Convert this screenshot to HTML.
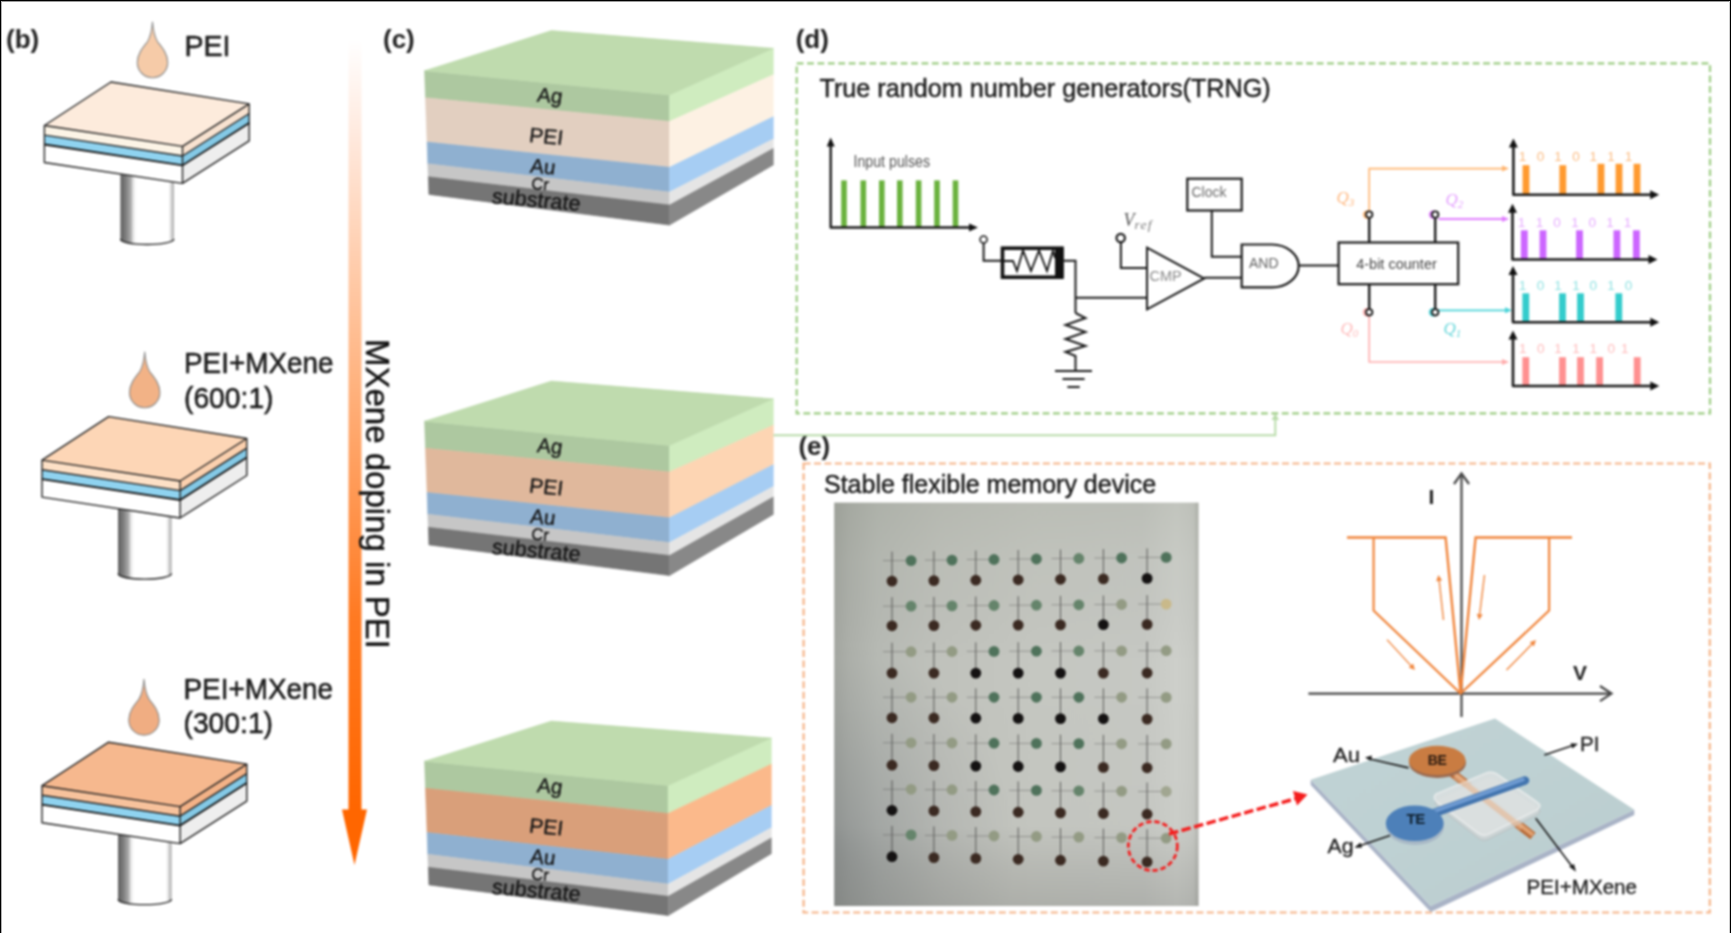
<!DOCTYPE html><html><head><meta charset="utf-8"><style>
html,body{margin:0;padding:0;background:#fff;}
body{width:1731px;height:933px;overflow:hidden;font-family:"Liberation Sans", sans-serif;}
svg{display:block;filter:blur(1px);}
.bd{position:absolute;background:#000;}
body{position:relative;}
</style></head><body>
<svg width="1731" height="933" viewBox="0 0 1731 933" font-family='"Liberation Sans", sans-serif'>
<defs>
<linearGradient id="cyl" x1="0" x2="1" y1="0" y2="0"><stop offset="0" stop-color="#5e5e5e"/><stop offset="0.1" stop-color="#7e7e7e"/><stop offset="0.19" stop-color="#a8a8a8"/><stop offset="0.25" stop-color="#eeeeee"/><stop offset="0.3" stop-color="#fff"/><stop offset="0.9" stop-color="#fff"/><stop offset="0.95" stop-color="#d4d4d4"/><stop offset="1" stop-color="#a8a8a8"/></linearGradient>
<linearGradient id="arrowg" x1="0" x2="0" y1="0" y2="1"><stop offset="0" stop-color="#fff"/><stop offset="0.12" stop-color="#ffeadf"/><stop offset="0.45" stop-color="#ffb27e"/><stop offset="0.75" stop-color="#ff7a22"/><stop offset="1" stop-color="#ff6600"/></linearGradient>
<linearGradient id="photo" x1="0" x2="1" y1="0" y2="0"><stop offset="0" stop-color="#a4a7a1"/><stop offset="0.04" stop-color="#adb0aa"/><stop offset="0.12" stop-color="#b7bab4"/><stop offset="0.3" stop-color="#c0c2bc"/><stop offset="0.55" stop-color="#c5c7c1"/><stop offset="0.85" stop-color="#c6c8c3"/><stop offset="0.94" stop-color="#cdcfca"/><stop offset="0.985" stop-color="#c8cac5"/><stop offset="1" stop-color="#b4b6b0"/></linearGradient>
<radialGradient id="photoR" cx="0" cy="0.85" r="0.5"><stop offset="0" stop-color="#3a4050" stop-opacity="0.2"/><stop offset="0.6" stop-color="#3a4050" stop-opacity="0.07"/><stop offset="1" stop-color="#3a4050" stop-opacity="0"/></radialGradient>
<marker id="ah" viewBox="0 0 10 10" refX="9" refY="5" markerWidth="8" markerHeight="8" orient="auto" markerUnits="userSpaceOnUse"><path d="M0,0 L10,5 L0,10 Z" fill="#111"/></marker>
<linearGradient id="photoV" x1="0" x2="0" y1="0" y2="1"><stop offset="0" stop-color="#505a40" stop-opacity="0.09"/><stop offset="0.15" stop-color="#505a40" stop-opacity="0.04"/><stop offset="0.4" stop-color="#000" stop-opacity="0"/><stop offset="0.8" stop-color="#000" stop-opacity="0.01"/><stop offset="0.9" stop-color="#000" stop-opacity="0.07"/><stop offset="1" stop-color="#000" stop-opacity="0.12"/></linearGradient>
<linearGradient id="piG" x1="0" x2="1" y1="0" y2="1"><stop offset="0" stop-color="#fff" stop-opacity="0.0"/><stop offset="1" stop-color="#000" stop-opacity="0.03"/></linearGradient>
</defs>
<rect x="0" y="0" width="1731" height="933" fill="#fff"/>
<text x="6" y="47.8" font-size="26" font-weight="bold" fill="#222">(b)</text>
<path d="M120.4,150 L120.4,240 A26.799999999999997,5.5 0 0 0 174.0,240 L174.0,150 Z" fill="url(#cyl)"/>
<path d="M120.4,239 A26.799999999999997,5.5 0 0 0 174.0,239" fill="none" stroke="#222" stroke-width="1.3"/>
<polygon points="44.4,125.5 182.5,146.4 182.5,156.0 44.4,135.1" fill="#fcf4e6"/>
<polygon points="44.4,135.1 182.5,156.0 182.5,165.4 44.4,144.5" fill="#8fd3f0"/>
<polygon points="44.4,144.5 182.5,165.4 182.5,183.4 44.4,162.5" fill="#ffffff"/>
<polygon points="182.5,146.4 249.2,103.9 249.2,113.5 182.5,156.0" fill="#f8e2d0"/>
<polygon points="182.5,156.0 249.2,113.5 249.2,122.9 182.5,165.4" fill="#84c9e6"/>
<polygon points="182.5,165.4 249.2,122.9 249.2,140.9 182.5,183.4" fill="#eeeeee"/>
<polygon points="44.4,125.5 111.0,82.0 249.2,103.9 182.5,146.4" fill="#fdebdc" stroke="#222" stroke-width="1.4" stroke-linejoin="round"/>
<path d="M44.4,125.5 L44.4,162.5 L182.5,183.4 L249.2,140.9 L249.2,103.9 M182.5,146.4 L182.5,183.4 M44.4,135.1 L182.5,156.0 L249.2,113.5" fill="none" stroke="#222" stroke-width="1.4" stroke-linejoin="round"/>
<path d="M44.4,144.5 L182.5,165.4 L249.2,122.9" fill="none" stroke="#111" stroke-width="1.8"/>
<path d="M152.5,22.0 C153.4,33.0 154.7,37.0 157.7,42.0 C162.2,47.5 167.7,54.0 167.7,62.5 A15.2,15.2 0 0 1 137.3,62.5 C137.3,54.0 142.8,47.5 147.3,42.0 C150.3,37.0 151.6,33.0 152.5,22.0 Z" fill="#f6cba8" stroke="#8c8c8c" stroke-width="1.1" stroke-linejoin="round"/>
<text x="184.5" y="55.5" font-size="30" fill="#1c1c1c" stroke="#1c1c1c" stroke-width="0.6" textLength="46.0" lengthAdjust="spacingAndGlyphs">PEI</text>
<path d="M118.0,484.6 L118.0,574.6 A26.799999999999997,5.5 0 0 0 171.6,574.6 L171.6,484.6 Z" fill="url(#cyl)"/>
<path d="M118.0,573.6 A26.799999999999997,5.5 0 0 0 171.6,573.6" fill="none" stroke="#222" stroke-width="1.3"/>
<polygon points="42.0,460.1 180.1,481.0 180.1,490.6 42.0,469.7" fill="#fde0c6"/>
<polygon points="42.0,469.7 180.1,490.6 180.1,500.0 42.0,479.1" fill="#8fd3f0"/>
<polygon points="42.0,479.1 180.1,500.0 180.1,518.0 42.0,497.1" fill="#ffffff"/>
<polygon points="180.1,481.0 246.8,438.5 246.8,448.1 180.1,490.6" fill="#fbd0ae"/>
<polygon points="180.1,490.6 246.8,448.1 246.8,457.5 180.1,500.0" fill="#84c9e6"/>
<polygon points="180.1,500.0 246.8,457.5 246.8,475.5 180.1,518.0" fill="#eeeeee"/>
<polygon points="42.0,460.1 108.6,416.6 246.8,438.5 180.1,481.0" fill="#fdd6b6" stroke="#222" stroke-width="1.4" stroke-linejoin="round"/>
<path d="M42.0,460.1 L42.0,497.1 L180.1,518.0 L246.8,475.5 L246.8,438.5 M180.1,481.0 L180.1,518.0 M42.0,469.7 L180.1,490.6 L246.8,448.1" fill="none" stroke="#222" stroke-width="1.4" stroke-linejoin="round"/>
<path d="M42.0,479.1 L180.1,500.0 L246.8,457.5" fill="none" stroke="#111" stroke-width="1.8"/>
<path d="M144.7,352.0 C145.6,363.0 146.9,367.0 149.9,372.0 C154.4,377.5 159.9,384.0 159.9,392.5 A15.2,15.2 0 0 1 129.5,392.5 C129.5,384.0 135.0,377.5 139.5,372.0 C142.5,367.0 143.8,363.0 144.7,352.0 Z" fill="#f2b286" stroke="#8c8c8c" stroke-width="1.1" stroke-linejoin="round"/>
<text x="184" y="372.8" font-size="30" fill="#1c1c1c" stroke="#1c1c1c" stroke-width="0.6" textLength="149.5" lengthAdjust="spacingAndGlyphs">PEI+MXene</text>
<text x="184" y="407.6" font-size="30" fill="#1c1c1c" stroke="#1c1c1c" stroke-width="0.6" textLength="89.5" lengthAdjust="spacingAndGlyphs">(600:1)</text>
<path d="M118.0,810.2 L118.0,900.2 A26.799999999999997,5.5 0 0 0 171.6,900.2 L171.6,810.2 Z" fill="url(#cyl)"/>
<path d="M118.0,899.2 A26.799999999999997,5.5 0 0 0 171.6,899.2" fill="none" stroke="#222" stroke-width="1.3"/>
<polygon points="42.0,785.7 180.1,806.6 180.1,816.2 42.0,795.3" fill="#f7c29c"/>
<polygon points="42.0,795.3 180.1,816.2 180.1,825.6 42.0,804.7" fill="#8fd3f0"/>
<polygon points="42.0,804.7 180.1,825.6 180.1,843.6 42.0,822.7" fill="#ffffff"/>
<polygon points="180.1,806.6 246.8,764.1 246.8,773.7 180.1,816.2" fill="#f3b287"/>
<polygon points="180.1,816.2 246.8,773.7 246.8,783.1 180.1,825.6" fill="#84c9e6"/>
<polygon points="180.1,825.6 246.8,783.1 246.8,801.1 180.1,843.6" fill="#eeeeee"/>
<polygon points="42.0,785.7 108.6,742.2 246.8,764.1 180.1,806.6" fill="#f6b88e" stroke="#222" stroke-width="1.4" stroke-linejoin="round"/>
<path d="M42.0,785.7 L42.0,822.7 L180.1,843.6 L246.8,801.1 L246.8,764.1 M180.1,806.6 L180.1,843.6 M42.0,795.3 L180.1,816.2 L246.8,773.7" fill="none" stroke="#222" stroke-width="1.4" stroke-linejoin="round"/>
<path d="M42.0,804.7 L180.1,825.6 L246.8,783.1" fill="none" stroke="#111" stroke-width="1.8"/>
<path d="M144.0,679.4 C144.9,690.4 146.2,694.4 149.2,699.4 C153.7,704.9 159.2,711.4 159.2,719.9 A15.2,15.2 0 0 1 128.8,719.9 C128.8,711.4 134.3,704.9 138.8,699.4 C141.8,694.4 143.1,690.4 144.0,679.4 Z" fill="#f0ad82" stroke="#8c8c8c" stroke-width="1.1" stroke-linejoin="round"/>
<text x="183.5" y="698.5" font-size="30" fill="#1c1c1c" stroke="#1c1c1c" stroke-width="0.6" textLength="149.5" lengthAdjust="spacingAndGlyphs">PEI+MXene</text>
<text x="183.5" y="733.3" font-size="30" fill="#1c1c1c" stroke="#1c1c1c" stroke-width="0.6" textLength="89.5" lengthAdjust="spacingAndGlyphs">(300:1)</text>
<rect x="348.5" y="39" width="13" height="772" fill="url(#arrowg)"/>
<polygon points="342,809.5 367,809.5 354.5,865" fill="#ff6600"/>
<text x="0" y="0" font-size="33" fill="#111" stroke="#111" stroke-width="0.4" transform="translate(365.5 339) rotate(90)">MXene doping in PEI</text>
<text x="383" y="48.3" font-size="26" font-weight="bold" fill="#222">(c)</text>
<polygon points="424.6,70.7 669.5,95.0 669.5,121.4 425.5,97.8" fill="#adc8a0" stroke="#adc8a0" stroke-width="0.6"/>
<polygon points="669.5,95.0 773.3,48.3 773.3,74.7 669.5,121.4" fill="#cfecbf" stroke="#cfecbf" stroke-width="0.6"/>
<polygon points="425.5,97.8 669.5,121.4 669.5,167.3 427.1,142.1" fill="#e2cfc0" stroke="#e2cfc0" stroke-width="0.6"/>
<polygon points="669.5,121.4 773.3,74.7 773.3,116.7 669.5,167.3" fill="#fdf1e3" stroke="#fdf1e3" stroke-width="0.6"/>
<polygon points="427.1,142.1 669.5,167.3 669.5,192.1 427.8,163.8" fill="#8fb0d0" stroke="#8fb0d0" stroke-width="0.6"/>
<polygon points="669.5,167.3 773.3,116.7 773.3,139.0 669.5,192.1" fill="#a6cdf3" stroke="#a6cdf3" stroke-width="0.6"/>
<polygon points="427.8,163.8 669.5,192.1 669.5,205.0 428.3,176.8" fill="#c6c6c6" stroke="#c6c6c6" stroke-width="0.6"/>
<polygon points="669.5,192.1 773.3,139.0 773.3,148.5 669.5,205.0" fill="#e5e5e5" stroke="#e5e5e5" stroke-width="0.6"/>
<polygon points="428.3,176.8 669.5,205.0 669.5,225.1 428.9,194.4" fill="#757575" stroke="#757575" stroke-width="0.6"/>
<polygon points="669.5,205.0 773.3,148.5 773.3,165.0 669.5,225.1" fill="#888888" stroke="#888888" stroke-width="0.6"/>
<polygon points="424.6,70.7 551.4,30.6 773.3,48.3 669.5,95.0" fill="#bfdbae" stroke="#bfdbae" stroke-width="0.6"/>
<text x="0" y="0" font-size="20.5" fill="#151515" stroke="#151515" stroke-width="0.35" text-anchor="middle" transform="translate(549 102.5) skewY(5) skewX(-7)">Ag</text>
<text x="0" y="0" font-size="21" fill="#151515" stroke="#151515" stroke-width="0.35" text-anchor="middle" transform="translate(545.5 143.5) skewY(5) skewX(-7)">PEI</text>
<text x="0" y="0" font-size="20.5" fill="#151515" stroke="#151515" stroke-width="0.35" text-anchor="middle" transform="translate(542 173.5) skewY(5) skewX(-7)">Au</text>
<text x="0" y="0" font-size="16.5" fill="#111" stroke="#151515" stroke-width="0.35" text-anchor="middle" transform="translate(539.5 189.5) skewY(5) skewX(-7)">Cr</text>
<text x="0" y="0" font-size="21.5" fill="#151515" stroke="#151515" stroke-width="0.35" text-anchor="middle" transform="translate(535.5 207.0) skewY(5) skewX(-7)">substrate</text>
<polygon points="424.6,421.2 669.5,445.5 669.5,471.9 425.5,448.3" fill="#adc8a0" stroke="#adc8a0" stroke-width="0.6"/>
<polygon points="669.5,445.5 773.3,398.8 773.3,425.2 669.5,471.9" fill="#cfecbf" stroke="#cfecbf" stroke-width="0.6"/>
<polygon points="425.5,448.3 669.5,471.9 669.5,517.8 427.1,492.6" fill="#e0b89c" stroke="#e0b89c" stroke-width="0.6"/>
<polygon points="669.5,471.9 773.3,425.2 773.3,464.7 669.5,517.8" fill="#fdd5b3" stroke="#fdd5b3" stroke-width="0.6"/>
<polygon points="427.1,492.6 669.5,517.8 669.5,542.6 427.8,514.3" fill="#8fb0d0" stroke="#8fb0d0" stroke-width="0.6"/>
<polygon points="669.5,517.8 773.3,464.7 773.3,486.5 669.5,542.6" fill="#a6cdf3" stroke="#a6cdf3" stroke-width="0.6"/>
<polygon points="427.8,514.3 669.5,542.6 669.5,555.5 428.3,527.3" fill="#c6c6c6" stroke="#c6c6c6" stroke-width="0.6"/>
<polygon points="669.5,542.6 773.3,486.5 773.3,497.0 669.5,555.5" fill="#e5e5e5" stroke="#e5e5e5" stroke-width="0.6"/>
<polygon points="428.3,527.3 669.5,555.5 669.5,575.6 428.9,544.9" fill="#757575" stroke="#757575" stroke-width="0.6"/>
<polygon points="669.5,555.5 773.3,497.0 773.3,514.5 669.5,575.6" fill="#888888" stroke="#888888" stroke-width="0.6"/>
<polygon points="424.6,421.2 551.4,381.1 773.3,398.8 669.5,445.5" fill="#bfdbae" stroke="#bfdbae" stroke-width="0.6"/>
<text x="0" y="0" font-size="20.5" fill="#151515" stroke="#151515" stroke-width="0.35" text-anchor="middle" transform="translate(549 453.0) skewY(5) skewX(-7)">Ag</text>
<text x="0" y="0" font-size="21" fill="#151515" stroke="#151515" stroke-width="0.35" text-anchor="middle" transform="translate(545.5 494.0) skewY(5) skewX(-7)">PEI</text>
<text x="0" y="0" font-size="20.5" fill="#151515" stroke="#151515" stroke-width="0.35" text-anchor="middle" transform="translate(542 524.0) skewY(5) skewX(-7)">Au</text>
<text x="0" y="0" font-size="16.5" fill="#111" stroke="#151515" stroke-width="0.35" text-anchor="middle" transform="translate(539.5 540.0) skewY(5) skewX(-7)">Cr</text>
<text x="0" y="0" font-size="21.5" fill="#151515" stroke="#151515" stroke-width="0.35" text-anchor="middle" transform="translate(535.5 557.5) skewY(5) skewX(-7)">substrate</text>
<polygon points="424.6,761.2 668.2,785.5 668.2,813.4 425.5,788.3" fill="#adc8a0" stroke="#adc8a0" stroke-width="0.6"/>
<polygon points="668.2,785.5 771.3,738.0 771.3,764.2 668.2,813.4" fill="#cfecbf" stroke="#cfecbf" stroke-width="0.6"/>
<polygon points="425.5,788.3 668.2,813.4 668.2,859.3 427.1,832.6" fill="#d99f7a" stroke="#d99f7a" stroke-width="0.6"/>
<polygon points="668.2,813.4 771.3,764.2 771.3,805.5 668.2,859.3" fill="#fbb98b" stroke="#fbb98b" stroke-width="0.6"/>
<polygon points="427.1,832.6 668.2,859.3 668.2,884.1 427.8,854.3" fill="#8fb0d0" stroke="#8fb0d0" stroke-width="0.6"/>
<polygon points="668.2,859.3 771.3,805.5 771.3,827.8 668.2,884.1" fill="#a6cdf3" stroke="#a6cdf3" stroke-width="0.6"/>
<polygon points="427.8,854.3 668.2,884.1 668.2,896.3 428.3,867.3" fill="#c6c6c6" stroke="#c6c6c6" stroke-width="0.6"/>
<polygon points="668.2,884.1 771.3,827.8 771.3,838.0 668.2,896.3" fill="#e5e5e5" stroke="#e5e5e5" stroke-width="0.6"/>
<polygon points="428.3,867.3 668.2,896.3 668.2,915.6 428.9,884.9" fill="#757575" stroke="#757575" stroke-width="0.6"/>
<polygon points="668.2,896.3 771.3,838.0 771.3,853.7 668.2,915.6" fill="#888888" stroke="#888888" stroke-width="0.6"/>
<polygon points="424.6,761.2 551.4,721.1 771.3,738.0 668.2,785.5" fill="#bfdbae" stroke="#bfdbae" stroke-width="0.6"/>
<text x="0" y="0" font-size="20.5" fill="#151515" stroke="#151515" stroke-width="0.35" text-anchor="middle" transform="translate(549 793.0) skewY(5) skewX(-7)">Ag</text>
<text x="0" y="0" font-size="21" fill="#151515" stroke="#151515" stroke-width="0.35" text-anchor="middle" transform="translate(545.5 834.0) skewY(5) skewX(-7)">PEI</text>
<text x="0" y="0" font-size="20.5" fill="#151515" stroke="#151515" stroke-width="0.35" text-anchor="middle" transform="translate(542 864.0) skewY(5) skewX(-7)">Au</text>
<text x="0" y="0" font-size="16.5" fill="#111" stroke="#151515" stroke-width="0.35" text-anchor="middle" transform="translate(539.5 880.0) skewY(5) skewX(-7)">Cr</text>
<text x="0" y="0" font-size="21.5" fill="#151515" stroke="#151515" stroke-width="0.35" text-anchor="middle" transform="translate(535.5 897.5) skewY(5) skewX(-7)">substrate</text>
<text x="795.7" y="47.8" font-size="26" font-weight="bold" fill="#222">(d)</text>
<rect x="796.7" y="63.3" width="913.3" height="350.1" fill="none" stroke="#9ccc82" stroke-width="2.2" stroke-dasharray="6.8 3.6"/>
<text x="819.5" y="96.7" font-size="25.2" fill="#1c1c1c" stroke="#1c1c1c" stroke-width="0.45">True random number generators(TRNG)</text>
<rect x="841.2" y="180.4" width="5.6" height="47" fill="#6ab23e"/>
<rect x="860.5" y="180.4" width="5.6" height="47" fill="#6ab23e"/>
<rect x="879.0" y="180.4" width="5.6" height="47" fill="#6ab23e"/>
<rect x="897.0" y="180.4" width="5.6" height="47" fill="#6ab23e"/>
<rect x="915.8" y="180.4" width="5.6" height="47" fill="#6ab23e"/>
<rect x="934.2" y="180.4" width="5.6" height="47" fill="#6ab23e"/>
<rect x="952.7" y="180.4" width="5.6" height="47" fill="#6ab23e"/>
<path d="M830.7,145 L830.7,227.5 L970,227.5" fill="none" stroke="#1a1a1a" stroke-width="2.4" stroke-linejoin="round"/>
<polygon points="830.7,137.5 826.7,146.5 834.7,146.5" fill="#111"/>
<polygon points="978,227.5 969,223.5 969,231.5" fill="#111"/>
<text x="853.5" y="167.3" font-size="16.5" fill="#555" textLength="76.5" lengthAdjust="spacingAndGlyphs">Input pulses</text>
<path d="M983.6,243 L983.6,260.7 L1001,260.7" fill="none" stroke="#1a1a1a" stroke-width="2"/>
<path d="M1063.7,260.7 L1075.5,260.7 L1075.5,313" fill="none" stroke="#1a1a1a" stroke-width="2"/>
<path d="M1075.5,297.7 L1147,297.7" fill="none" stroke="#1a1a1a" stroke-width="2"/>
<path d="M1075.5,313 L1085.5,318 L1065.5,325 L1085.5,332 L1065.5,339 L1085.5,346 L1065.5,352 L1075.5,356 L1075.5,371" fill="none" stroke="#1a1a1a" stroke-width="2" stroke-linejoin="miter"/>
<path d="M1055,371 L1092,371 M1062.5,379 L1084.6,379 M1067.4,387 L1079.7,387" stroke="#1a1a1a" stroke-width="2"/>
<circle cx="983.6" cy="239.5" r="3.5" fill="#fff" stroke="#1a1a1a" stroke-width="1.6"/>
<rect x="1002.5" y="248.2" width="59.5" height="29" fill="#fff" stroke="#111" stroke-width="3.6"/>
<rect x="1055" y="248" width="8.5" height="29.5" fill="#111"/>
<path d="M1004,261 L1013,261 L1017,271 L1023,250.5 L1031,271 L1039,250.5 L1047,271 L1053,250.5 L1055,258" fill="none" stroke="#111" stroke-width="1.8" stroke-linejoin="miter"/>
<path d="M1120.9,241 L1120.9,268 L1147,268" fill="none" stroke="#1a1a1a" stroke-width="2"/>
<circle cx="1120.7" cy="238" r="4.2" fill="#fff" stroke="#1a1a1a" stroke-width="2.2"/>
<text x="1123.5" y="226" font-family='"Liberation Serif", serif' font-style="italic" font-size="18" fill="#555">V<tspan font-size="13.5" dy="3" letter-spacing="1.2" fill="#777">ref</tspan></text>
<polygon points="1147,247.7 1147,309.3 1204.2,278.5" fill="#fff" stroke="#1a1a1a" stroke-width="2" stroke-linejoin="miter"/>
<text x="1149.5" y="281" font-size="14.5" fill="#8a8a8a">CMP</text>
<path d="M1204.2,277.7 L1242,277.7" fill="none" stroke="#1a1a1a" stroke-width="2"/>
<rect x="1187.3" y="178.7" width="54.4" height="31.8" fill="#fff" stroke="#1a1a1a" stroke-width="2.2"/>
<text x="1191.5" y="197.3" font-size="15.5" fill="#6a6a6a" textLength="35" lengthAdjust="spacingAndGlyphs">Clock</text>
<path d="M1211.8,210.5 L1211.8,256.7 L1242,256.7" fill="none" stroke="#1a1a1a" stroke-width="2"/>
<path d="M1241.7,244.5 L1272,244.5 A26.7,21.4 0 0 1 1272,287.3 L1241.7,287.3 Z" fill="#fff" stroke="#1a1a1a" stroke-width="2.2"/>
<text x="1249" y="267.5" font-size="14" fill="#606060">AND</text>
<path d="M1298.7,265.5 L1339,265.5" fill="none" stroke="#1a1a1a" stroke-width="2"/>
<path d="M1369.2,218 L1369.2,243 M1435.2,218 L1435.2,243 M1369.2,284 L1369.2,309 M1435.2,284 L1435.2,309" stroke="#1a1a1a" stroke-width="2.4"/>
<rect x="1338.6" y="242.5" width="119.6" height="41.7" fill="#fff" stroke="#1a1a1a" stroke-width="2.2"/>
<text x="1396.5" y="268.5" font-size="14.5" fill="#444" text-anchor="middle">4-bit counter</text>
<path d="M1369.2,211 L1369.2,168.6 L1503,168.6" fill="none" stroke="#ffb46e" stroke-width="1.6"/>
<polygon points="1509,168.6 1502,165.6 1502,171.6" fill="#ffb46e"/>
<path d="M1438.5,219 L1503,219" fill="none" stroke="#e07cff" stroke-width="1.8"/>
<polygon points="1509,219 1502,216.0 1502,222.0" fill="#e07cff"/>
<path d="M1438.5,310.3 L1506,310.3" fill="none" stroke="#48d3d8" stroke-width="1.8"/>
<polygon points="1512,310.3 1505,307.3 1505,313.3" fill="#48d3d8"/>
<path d="M1369.2,316 L1369.2,362 L1503,362" fill="none" stroke="#ffabab" stroke-width="1.6"/>
<polygon points="1509,362 1502,359.0 1502,365.0" fill="#ffabab"/>
<circle cx="1367.0" cy="214.6" r="3.3" fill="none" stroke="#ffb46e" stroke-width="1.8"/>
<circle cx="1369.2" cy="214.6" r="3.2" fill="#fff" stroke="#111" stroke-width="1.8"/>
<circle cx="1433.0" cy="214.6" r="3.3" fill="none" stroke="#e07cff" stroke-width="1.8"/>
<circle cx="1435.2" cy="214.6" r="3.2" fill="#fff" stroke="#111" stroke-width="1.8"/>
<circle cx="1367.0" cy="312.3" r="3.3" fill="none" stroke="#ffabab" stroke-width="1.8"/>
<circle cx="1369.2" cy="312.3" r="3.2" fill="#fff" stroke="#111" stroke-width="1.8"/>
<circle cx="1433.0" cy="312.3" r="3.3" fill="none" stroke="#48d3d8" stroke-width="1.8"/>
<circle cx="1435.2" cy="312.3" r="3.2" fill="#fff" stroke="#111" stroke-width="1.8"/>
<text x="1336.5" y="203" font-family='"Liberation Serif", serif' font-style="italic" font-size="17" fill="#ffb880">Q<tspan font-size="11" dy="3">3</tspan></text>
<text x="1445.5" y="205" font-family='"Liberation Serif", serif' font-style="italic" font-size="17" fill="#e4a0ff">Q<tspan font-size="11" dy="3">2</tspan></text>
<text x="1340.5" y="334" font-family='"Liberation Serif", serif' font-style="italic" font-size="17" fill="#ffbaba">Q<tspan font-size="11" dy="3">0</tspan></text>
<text x="1443.5" y="334" font-family='"Liberation Serif", serif' font-style="italic" font-size="17" fill="#66d6da">Q<tspan font-size="11" dy="3">1</tspan></text>
<rect x="1522.6" y="165.2" width="6.8" height="29.6" fill="#ff9a30"/>
<rect x="1559.4" y="165.2" width="6.8" height="29.6" fill="#ff9a30"/>
<rect x="1597.6" y="163.8" width="6.8" height="31.0" fill="#ff9a30"/>
<rect x="1615.6" y="163.8" width="6.8" height="31.0" fill="#ff9a30"/>
<rect x="1633.6" y="163.8" width="6.8" height="31.0" fill="#ff9a30"/>
<path d="M1513.4,145.6 L1513.4,194.8 L1652.2,194.8" fill="none" stroke="#1a1a1a" stroke-width="2.6" stroke-linejoin="round"/>
<polygon points="1513.4,138.6 1508.9,147.6 1517.9,147.6" fill="#111"/>
<polygon points="1659.2,194.8 1650.2,190.3 1650.2,199.3" fill="#111"/>
<text x="1522.5" y="161.4" font-size="13.5" fill="#fbbb80" text-anchor="middle">1</text>
<text x="1540.5" y="161.4" font-size="13.5" fill="#fbbb80" text-anchor="middle">0</text>
<text x="1558" y="161.4" font-size="13.5" fill="#fbbb80" text-anchor="middle">1</text>
<text x="1576" y="161.4" font-size="13.5" fill="#fbbb80" text-anchor="middle">0</text>
<text x="1593.3" y="161.4" font-size="13.5" fill="#fbbb80" text-anchor="middle">1</text>
<text x="1611" y="161.4" font-size="13.5" fill="#fbbb80" text-anchor="middle">1</text>
<text x="1628.5" y="161.4" font-size="13.5" fill="#fbbb80" text-anchor="middle">1</text>
<rect x="1520.9" y="230.3" width="6.8" height="29.2" fill="#cc66ff"/>
<rect x="1539.6" y="230.3" width="6.8" height="29.2" fill="#cc66ff"/>
<rect x="1576.1" y="230.3" width="6.8" height="29.2" fill="#cc66ff"/>
<rect x="1613.5" y="230.3" width="6.8" height="29.2" fill="#cc66ff"/>
<rect x="1633.0" y="230.3" width="6.8" height="29.2" fill="#cc66ff"/>
<path d="M1512.5,210.8 L1512.5,259.5 L1650.5,259.5" fill="none" stroke="#1a1a1a" stroke-width="2.6" stroke-linejoin="round"/>
<polygon points="1512.5,203.8 1508.0,212.8 1517.0,212.8" fill="#111"/>
<polygon points="1657.5,259.5 1648.5,255.0 1648.5,264.0" fill="#111"/>
<text x="1521.5" y="227.4" font-size="13.5" fill="#e6aaff" text-anchor="middle">1</text>
<text x="1539.5" y="227.4" font-size="13.5" fill="#e6aaff" text-anchor="middle">1</text>
<text x="1557" y="227.4" font-size="13.5" fill="#e6aaff" text-anchor="middle">0</text>
<text x="1575" y="227.4" font-size="13.5" fill="#e6aaff" text-anchor="middle">1</text>
<text x="1592.3" y="227.4" font-size="13.5" fill="#e6aaff" text-anchor="middle">0</text>
<text x="1610" y="227.4" font-size="13.5" fill="#e6aaff" text-anchor="middle">1</text>
<text x="1627.5" y="227.4" font-size="13.5" fill="#e6aaff" text-anchor="middle">1</text>
<rect x="1522.4" y="293.3" width="6.8" height="29.0" fill="#33cccc"/>
<rect x="1559.1" y="293.3" width="6.8" height="29.0" fill="#33cccc"/>
<rect x="1577.1" y="293.3" width="6.8" height="29.0" fill="#33cccc"/>
<rect x="1615.4" y="293.3" width="6.8" height="29.0" fill="#33cccc"/>
<path d="M1513,273 L1513,322.3 L1652.3,322.3" fill="none" stroke="#1a1a1a" stroke-width="2.6" stroke-linejoin="round"/>
<polygon points="1513,266 1508.5,275 1517.5,275" fill="#111"/>
<polygon points="1659.3,322.3 1650.3,317.8 1650.3,326.8" fill="#111"/>
<text x="1522.5" y="289.6" font-size="13.5" fill="#90e2e2" text-anchor="middle">1</text>
<text x="1540.5" y="289.6" font-size="13.5" fill="#90e2e2" text-anchor="middle">0</text>
<text x="1558" y="289.6" font-size="13.5" fill="#90e2e2" text-anchor="middle">1</text>
<text x="1576" y="289.6" font-size="13.5" fill="#90e2e2" text-anchor="middle">1</text>
<text x="1593.3" y="289.6" font-size="13.5" fill="#90e2e2" text-anchor="middle">0</text>
<text x="1611" y="289.6" font-size="13.5" fill="#90e2e2" text-anchor="middle">1</text>
<text x="1628.5" y="289.6" font-size="13.5" fill="#90e2e2" text-anchor="middle">0</text>
<rect x="1522.4" y="357.2" width="6.8" height="28.8" fill="#ff9090"/>
<rect x="1559.1" y="357.2" width="6.8" height="28.8" fill="#ff9090"/>
<rect x="1577.1" y="357.2" width="6.8" height="28.8" fill="#ff9090"/>
<rect x="1596.2" y="357.2" width="6.8" height="28.8" fill="#ff9090"/>
<rect x="1633.8" y="357.2" width="6.8" height="28.8" fill="#ff9090"/>
<path d="M1513,337.5 L1513,386 L1652.3,386" fill="none" stroke="#1a1a1a" stroke-width="2.6" stroke-linejoin="round"/>
<polygon points="1513,330.5 1508.5,339.5 1517.5,339.5" fill="#111"/>
<polygon points="1659.3,386 1650.3,381.5 1650.3,390.5" fill="#111"/>
<text x="1522.8" y="352.6" font-size="13.5" fill="#ffbcbc" text-anchor="middle">1</text>
<text x="1540.8" y="352.6" font-size="13.5" fill="#ffbcbc" text-anchor="middle">0</text>
<text x="1558" y="352.6" font-size="13.5" fill="#ffbcbc" text-anchor="middle">1</text>
<text x="1576" y="352.6" font-size="13.5" fill="#ffbcbc" text-anchor="middle">1</text>
<text x="1593.3" y="352.6" font-size="13.5" fill="#ffbcbc" text-anchor="middle">1</text>
<text x="1611.3" y="352.6" font-size="13.5" fill="#ffbcbc" text-anchor="middle">0</text>
<text x="1624.8" y="352.6" font-size="13.5" fill="#ffbcbc" text-anchor="middle">1</text>
<text x="798.4" y="454.5" font-size="26" font-weight="bold" fill="#222">(e)</text>
<path d="M773.3,435.2 L1275.3,435.2 L1275.3,418" fill="none" stroke="#b9dcaa" stroke-width="2"/>
<polygon points="1275.3,413.5 1271.5,420 1279,420" fill="#b9dcaa"/>
<rect x="803.6" y="463.5" width="906.2" height="449" fill="none" stroke="#f6b488" stroke-width="2.2" stroke-dasharray="7 3.4"/>
<text x="824" y="493" font-size="25" fill="#1c1c1c" stroke="#1c1c1c" stroke-width="0.45">Stable flexible memory device</text>
<rect x="834.2" y="502.6" width="364.4" height="403.4" fill="url(#photo)"/>
<rect x="834.2" y="502.6" width="364.4" height="403.4" fill="url(#photoR)"/>
<rect x="834.2" y="502.6" width="364.4" height="403.4" fill="url(#photoV)"/>
<path d="M892.0,551.6 L892.0,581.1" stroke="#3a3a38" stroke-width="1" fill="none" opacity="0.75"/>
<path d="M883.0,560.6 L911.1,560.6" stroke="#5a5a58" stroke-width="1" fill="none" opacity="0.45"/>
<circle cx="911.1" cy="560.6" r="5.4" fill="#4f725b"/>
<circle cx="892.0" cy="581.1" r="5.4" fill="#3b2a22"/>
<path d="M933.9,551.1 L933.9,580.6" stroke="#3a3a38" stroke-width="1" fill="none" opacity="0.75"/>
<path d="M924.9,560.1 L952.0,560.1" stroke="#5a5a58" stroke-width="1" fill="none" opacity="0.45"/>
<circle cx="952.0" cy="560.1" r="5.4" fill="#4f725b"/>
<circle cx="933.9" cy="580.6" r="5.4" fill="#3b2a22"/>
<path d="M975.8,550.5 L975.8,580.2" stroke="#3a3a38" stroke-width="1" fill="none" opacity="0.75"/>
<path d="M966.8,559.5 L994.0,559.5" stroke="#5a5a58" stroke-width="1" fill="none" opacity="0.45"/>
<circle cx="994.0" cy="559.5" r="5.4" fill="#4f725b"/>
<circle cx="975.8" cy="580.2" r="5.4" fill="#3b2a22"/>
<path d="M1018.2,550.0 L1018.2,579.8" stroke="#3a3a38" stroke-width="1" fill="none" opacity="0.75"/>
<path d="M1009.2,559.0 L1036.4,559.0" stroke="#5a5a58" stroke-width="1" fill="none" opacity="0.45"/>
<circle cx="1036.4" cy="559.0" r="5.4" fill="#4f725b"/>
<circle cx="1018.2" cy="579.8" r="5.4" fill="#3b2a22"/>
<path d="M1060.5,549.5 L1060.5,579.3" stroke="#3a3a38" stroke-width="1" fill="none" opacity="0.75"/>
<path d="M1051.5,558.5 L1078.8,558.5" stroke="#5a5a58" stroke-width="1" fill="none" opacity="0.45"/>
<circle cx="1078.8" cy="558.5" r="5.4" fill="#65846b"/>
<circle cx="1060.5" cy="579.3" r="5.4" fill="#3b2a22"/>
<path d="M1103.4,549.0 L1103.4,578.9" stroke="#3a3a38" stroke-width="1" fill="none" opacity="0.75"/>
<path d="M1094.4,558.0 L1121.6,558.0" stroke="#5a5a58" stroke-width="1" fill="none" opacity="0.45"/>
<circle cx="1121.6" cy="558.0" r="5.4" fill="#4f725b"/>
<circle cx="1103.4" cy="578.9" r="5.4" fill="#3b2a22"/>
<path d="M1147.1,548.4 L1147.1,578.4" stroke="#3a3a38" stroke-width="1" fill="none" opacity="0.75"/>
<path d="M1138.1,557.4 L1166.2,557.4" stroke="#5a5a58" stroke-width="1" fill="none" opacity="0.45"/>
<circle cx="1166.2" cy="557.4" r="5.4" fill="#4f725b"/>
<circle cx="1147.1" cy="578.4" r="5.4" fill="#141212"/>
<path d="M892.0,597.2 L892.0,625.8" stroke="#3a3a38" stroke-width="1" fill="none" opacity="0.75"/>
<path d="M883.0,606.2 L911.1,606.2" stroke="#5a5a58" stroke-width="1" fill="none" opacity="0.45"/>
<circle cx="911.1" cy="606.2" r="5.4" fill="#65846b"/>
<circle cx="892.0" cy="625.8" r="5.4" fill="#3b2a22"/>
<path d="M933.9,596.9 L933.9,625.6" stroke="#3a3a38" stroke-width="1" fill="none" opacity="0.75"/>
<path d="M924.9,605.9 L952.0,605.9" stroke="#5a5a58" stroke-width="1" fill="none" opacity="0.45"/>
<circle cx="952.0" cy="605.9" r="5.4" fill="#65846b"/>
<circle cx="933.9" cy="625.6" r="5.4" fill="#3b2a22"/>
<path d="M975.8,596.5 L975.8,625.3" stroke="#3a3a38" stroke-width="1" fill="none" opacity="0.75"/>
<path d="M966.8,605.5 L994.0,605.5" stroke="#5a5a58" stroke-width="1" fill="none" opacity="0.45"/>
<circle cx="994.0" cy="605.5" r="5.4" fill="#65846b"/>
<circle cx="975.8" cy="625.3" r="5.4" fill="#3b2a22"/>
<path d="M1018.2,596.2 L1018.2,625.1" stroke="#3a3a38" stroke-width="1" fill="none" opacity="0.75"/>
<path d="M1009.2,605.2 L1036.4,605.2" stroke="#5a5a58" stroke-width="1" fill="none" opacity="0.45"/>
<circle cx="1036.4" cy="605.2" r="5.4" fill="#65846b"/>
<circle cx="1018.2" cy="625.1" r="5.4" fill="#3b2a22"/>
<path d="M1060.5,595.8 L1060.5,624.9" stroke="#3a3a38" stroke-width="1" fill="none" opacity="0.75"/>
<path d="M1051.5,604.8 L1078.8,604.8" stroke="#5a5a58" stroke-width="1" fill="none" opacity="0.45"/>
<circle cx="1078.8" cy="604.8" r="5.4" fill="#65846b"/>
<circle cx="1060.5" cy="624.9" r="5.4" fill="#3b2a22"/>
<path d="M1103.4,595.5 L1103.4,624.6" stroke="#3a3a38" stroke-width="1" fill="none" opacity="0.75"/>
<path d="M1094.4,604.5 L1121.6,604.5" stroke="#5a5a58" stroke-width="1" fill="none" opacity="0.45"/>
<circle cx="1121.6" cy="604.5" r="5.4" fill="#939b84"/>
<circle cx="1103.4" cy="624.6" r="5.4" fill="#141212"/>
<path d="M1147.1,595.1 L1147.1,624.4" stroke="#3a3a38" stroke-width="1" fill="none" opacity="0.75"/>
<path d="M1138.1,604.1 L1166.2,604.1" stroke="#5a5a58" stroke-width="1" fill="none" opacity="0.45"/>
<circle cx="1166.2" cy="604.1" r="5.4" fill="#c9b98a"/>
<circle cx="1147.1" cy="624.4" r="5.4" fill="#3b2a22"/>
<path d="M892.0,642.7 L892.0,673.1" stroke="#3a3a38" stroke-width="1" fill="none" opacity="0.75"/>
<path d="M883.0,651.7 L911.1,651.7" stroke="#5a5a58" stroke-width="1" fill="none" opacity="0.45"/>
<circle cx="911.1" cy="651.7" r="5.4" fill="#939b84"/>
<circle cx="892.0" cy="673.1" r="5.4" fill="#3b2a22"/>
<path d="M933.9,642.5 L933.9,673.1" stroke="#3a3a38" stroke-width="1" fill="none" opacity="0.75"/>
<path d="M924.9,651.5 L952.0,651.5" stroke="#5a5a58" stroke-width="1" fill="none" opacity="0.45"/>
<circle cx="952.0" cy="651.5" r="5.4" fill="#939b84"/>
<circle cx="933.9" cy="673.1" r="5.4" fill="#3b2a22"/>
<path d="M975.8,642.4 L975.8,673.1" stroke="#3a3a38" stroke-width="1" fill="none" opacity="0.75"/>
<path d="M966.8,651.4 L994.0,651.4" stroke="#5a5a58" stroke-width="1" fill="none" opacity="0.45"/>
<circle cx="994.0" cy="651.4" r="5.4" fill="#4f725b"/>
<circle cx="975.8" cy="673.1" r="5.4" fill="#141212"/>
<path d="M1018.2,642.2 L1018.2,673.1" stroke="#3a3a38" stroke-width="1" fill="none" opacity="0.75"/>
<path d="M1009.2,651.2 L1036.4,651.2" stroke="#5a5a58" stroke-width="1" fill="none" opacity="0.45"/>
<circle cx="1036.4" cy="651.2" r="5.4" fill="#4f725b"/>
<circle cx="1018.2" cy="673.1" r="5.4" fill="#141212"/>
<path d="M1060.5,642.0 L1060.5,673.1" stroke="#3a3a38" stroke-width="1" fill="none" opacity="0.75"/>
<path d="M1051.5,651.0 L1078.8,651.0" stroke="#5a5a58" stroke-width="1" fill="none" opacity="0.45"/>
<circle cx="1078.8" cy="651.0" r="5.4" fill="#65846b"/>
<circle cx="1060.5" cy="673.1" r="5.4" fill="#141212"/>
<path d="M1103.4,641.9 L1103.4,673.1" stroke="#3a3a38" stroke-width="1" fill="none" opacity="0.75"/>
<path d="M1094.4,650.9 L1121.6,650.9" stroke="#5a5a58" stroke-width="1" fill="none" opacity="0.45"/>
<circle cx="1121.6" cy="650.9" r="5.4" fill="#939b84"/>
<circle cx="1103.4" cy="673.1" r="5.4" fill="#3b2a22"/>
<path d="M1147.1,641.7 L1147.1,673.0" stroke="#3a3a38" stroke-width="1" fill="none" opacity="0.75"/>
<path d="M1138.1,650.7 L1166.2,650.7" stroke="#5a5a58" stroke-width="1" fill="none" opacity="0.45"/>
<circle cx="1166.2" cy="650.7" r="5.4" fill="#939b84"/>
<circle cx="1147.1" cy="673.0" r="5.4" fill="#3b2a22"/>
<path d="M892.0,688.3 L892.0,717.8" stroke="#3a3a38" stroke-width="1" fill="none" opacity="0.75"/>
<path d="M883.0,697.3 L911.1,697.3" stroke="#5a5a58" stroke-width="1" fill="none" opacity="0.45"/>
<circle cx="911.1" cy="697.3" r="5.4" fill="#939b84"/>
<circle cx="892.0" cy="717.8" r="5.4" fill="#3b2a22"/>
<path d="M933.9,688.3 L933.9,718.0" stroke="#3a3a38" stroke-width="1" fill="none" opacity="0.75"/>
<path d="M924.9,697.3 L952.0,697.3" stroke="#5a5a58" stroke-width="1" fill="none" opacity="0.45"/>
<circle cx="952.0" cy="697.3" r="5.4" fill="#939b84"/>
<circle cx="933.9" cy="718.0" r="5.4" fill="#3b2a22"/>
<path d="M975.8,688.3 L975.8,718.2" stroke="#3a3a38" stroke-width="1" fill="none" opacity="0.75"/>
<path d="M966.8,697.3 L994.0,697.3" stroke="#5a5a58" stroke-width="1" fill="none" opacity="0.45"/>
<circle cx="994.0" cy="697.3" r="5.4" fill="#4f725b"/>
<circle cx="975.8" cy="718.2" r="5.4" fill="#141212"/>
<path d="M1018.2,688.3 L1018.2,718.4" stroke="#3a3a38" stroke-width="1" fill="none" opacity="0.75"/>
<path d="M1009.2,697.3 L1036.4,697.3" stroke="#5a5a58" stroke-width="1" fill="none" opacity="0.45"/>
<circle cx="1036.4" cy="697.3" r="5.4" fill="#4f725b"/>
<circle cx="1018.2" cy="718.4" r="5.4" fill="#141212"/>
<path d="M1060.5,688.3 L1060.5,718.6" stroke="#3a3a38" stroke-width="1" fill="none" opacity="0.75"/>
<path d="M1051.5,697.3 L1078.8,697.3" stroke="#5a5a58" stroke-width="1" fill="none" opacity="0.45"/>
<circle cx="1078.8" cy="697.3" r="5.4" fill="#4f725b"/>
<circle cx="1060.5" cy="718.6" r="5.4" fill="#141212"/>
<path d="M1103.4,688.3 L1103.4,718.8" stroke="#3a3a38" stroke-width="1" fill="none" opacity="0.75"/>
<path d="M1094.4,697.3 L1121.6,697.3" stroke="#5a5a58" stroke-width="1" fill="none" opacity="0.45"/>
<circle cx="1121.6" cy="697.3" r="5.4" fill="#939b84"/>
<circle cx="1103.4" cy="718.8" r="5.4" fill="#141212"/>
<path d="M1147.1,688.4 L1147.1,719.1" stroke="#3a3a38" stroke-width="1" fill="none" opacity="0.75"/>
<path d="M1138.1,697.4 L1166.2,697.4" stroke="#5a5a58" stroke-width="1" fill="none" opacity="0.45"/>
<circle cx="1166.2" cy="697.4" r="5.4" fill="#939b84"/>
<circle cx="1147.1" cy="719.1" r="5.4" fill="#3b2a22"/>
<path d="M892.0,733.8 L892.0,765.2" stroke="#3a3a38" stroke-width="1" fill="none" opacity="0.75"/>
<path d="M883.0,742.8 L911.1,742.8" stroke="#5a5a58" stroke-width="1" fill="none" opacity="0.45"/>
<circle cx="911.1" cy="742.8" r="5.4" fill="#939b84"/>
<circle cx="892.0" cy="765.2" r="5.4" fill="#3b2a22"/>
<path d="M933.9,734.0 L933.9,765.6" stroke="#3a3a38" stroke-width="1" fill="none" opacity="0.75"/>
<path d="M924.9,743.0 L952.0,743.0" stroke="#5a5a58" stroke-width="1" fill="none" opacity="0.45"/>
<circle cx="952.0" cy="743.0" r="5.4" fill="#939b84"/>
<circle cx="933.9" cy="765.6" r="5.4" fill="#3b2a22"/>
<path d="M975.8,734.2 L975.8,766.1" stroke="#3a3a38" stroke-width="1" fill="none" opacity="0.75"/>
<path d="M966.8,743.2 L994.0,743.2" stroke="#5a5a58" stroke-width="1" fill="none" opacity="0.45"/>
<circle cx="994.0" cy="743.2" r="5.4" fill="#4f725b"/>
<circle cx="975.8" cy="766.1" r="5.4" fill="#141212"/>
<path d="M1018.2,734.4 L1018.2,766.5" stroke="#3a3a38" stroke-width="1" fill="none" opacity="0.75"/>
<path d="M1009.2,743.4 L1036.4,743.4" stroke="#5a5a58" stroke-width="1" fill="none" opacity="0.45"/>
<circle cx="1036.4" cy="743.4" r="5.4" fill="#4f725b"/>
<circle cx="1018.2" cy="766.5" r="5.4" fill="#141212"/>
<path d="M1060.5,734.6 L1060.5,766.9" stroke="#3a3a38" stroke-width="1" fill="none" opacity="0.75"/>
<path d="M1051.5,743.6 L1078.8,743.6" stroke="#5a5a58" stroke-width="1" fill="none" opacity="0.45"/>
<circle cx="1078.8" cy="743.6" r="5.4" fill="#4f725b"/>
<circle cx="1060.5" cy="766.9" r="5.4" fill="#141212"/>
<path d="M1103.4,734.8 L1103.4,767.4" stroke="#3a3a38" stroke-width="1" fill="none" opacity="0.75"/>
<path d="M1094.4,743.8 L1121.6,743.8" stroke="#5a5a58" stroke-width="1" fill="none" opacity="0.45"/>
<circle cx="1121.6" cy="743.8" r="5.4" fill="#939b84"/>
<circle cx="1103.4" cy="767.4" r="5.4" fill="#3b2a22"/>
<path d="M1147.1,734.9 L1147.1,767.8" stroke="#3a3a38" stroke-width="1" fill="none" opacity="0.75"/>
<path d="M1138.1,743.9 L1166.2,743.9" stroke="#5a5a58" stroke-width="1" fill="none" opacity="0.45"/>
<circle cx="1166.2" cy="743.9" r="5.4" fill="#939b84"/>
<circle cx="1147.1" cy="767.8" r="5.4" fill="#3b2a22"/>
<path d="M892.0,780.3 L892.0,810.3" stroke="#3a3a38" stroke-width="1" fill="none" opacity="0.75"/>
<path d="M883.0,789.3 L911.1,789.3" stroke="#5a5a58" stroke-width="1" fill="none" opacity="0.45"/>
<circle cx="911.1" cy="789.3" r="5.4" fill="#939b84"/>
<circle cx="892.0" cy="810.3" r="5.4" fill="#141212"/>
<path d="M933.9,780.7 L933.9,810.9" stroke="#3a3a38" stroke-width="1" fill="none" opacity="0.75"/>
<path d="M924.9,789.7 L952.0,789.7" stroke="#5a5a58" stroke-width="1" fill="none" opacity="0.45"/>
<circle cx="952.0" cy="789.7" r="5.4" fill="#939b84"/>
<circle cx="933.9" cy="810.9" r="5.4" fill="#3b2a22"/>
<path d="M975.8,781.0 L975.8,811.6" stroke="#3a3a38" stroke-width="1" fill="none" opacity="0.75"/>
<path d="M966.8,790.0 L994.0,790.0" stroke="#5a5a58" stroke-width="1" fill="none" opacity="0.45"/>
<circle cx="994.0" cy="790.0" r="5.4" fill="#4f725b"/>
<circle cx="975.8" cy="811.6" r="5.4" fill="#3b2a22"/>
<path d="M1018.2,781.4 L1018.2,812.2" stroke="#3a3a38" stroke-width="1" fill="none" opacity="0.75"/>
<path d="M1009.2,790.4 L1036.4,790.4" stroke="#5a5a58" stroke-width="1" fill="none" opacity="0.45"/>
<circle cx="1036.4" cy="790.4" r="5.4" fill="#4f725b"/>
<circle cx="1018.2" cy="812.2" r="5.4" fill="#3b2a22"/>
<path d="M1060.5,781.8 L1060.5,812.9" stroke="#3a3a38" stroke-width="1" fill="none" opacity="0.75"/>
<path d="M1051.5,790.8 L1078.8,790.8" stroke="#5a5a58" stroke-width="1" fill="none" opacity="0.45"/>
<circle cx="1078.8" cy="790.8" r="5.4" fill="#65846b"/>
<circle cx="1060.5" cy="812.9" r="5.4" fill="#3b2a22"/>
<path d="M1103.4,782.1 L1103.4,813.5" stroke="#3a3a38" stroke-width="1" fill="none" opacity="0.75"/>
<path d="M1094.4,791.1 L1121.6,791.1" stroke="#5a5a58" stroke-width="1" fill="none" opacity="0.45"/>
<circle cx="1121.6" cy="791.1" r="5.4" fill="#939b84"/>
<circle cx="1103.4" cy="813.5" r="5.4" fill="#3b2a22"/>
<path d="M1147.1,782.5 L1147.1,814.2" stroke="#3a3a38" stroke-width="1" fill="none" opacity="0.75"/>
<path d="M1138.1,791.5 L1166.2,791.5" stroke="#5a5a58" stroke-width="1" fill="none" opacity="0.45"/>
<circle cx="1166.2" cy="791.5" r="5.4" fill="#a1a691"/>
<circle cx="1147.1" cy="814.2" r="5.4" fill="#3b2a22"/>
<path d="M892.0,825.9 L892.0,856.7" stroke="#3a3a38" stroke-width="1" fill="none" opacity="0.75"/>
<path d="M883.0,834.9 L911.1,834.9" stroke="#5a5a58" stroke-width="1" fill="none" opacity="0.45"/>
<circle cx="911.1" cy="834.9" r="5.4" fill="#65846b"/>
<circle cx="892.0" cy="856.7" r="5.4" fill="#141212"/>
<path d="M933.9,826.4 L933.9,857.6" stroke="#3a3a38" stroke-width="1" fill="none" opacity="0.75"/>
<path d="M924.9,835.4 L952.0,835.4" stroke="#5a5a58" stroke-width="1" fill="none" opacity="0.45"/>
<circle cx="952.0" cy="835.4" r="5.4" fill="#939b84"/>
<circle cx="933.9" cy="857.6" r="5.4" fill="#3b2a22"/>
<path d="M975.8,827.0 L975.8,858.4" stroke="#3a3a38" stroke-width="1" fill="none" opacity="0.75"/>
<path d="M966.8,836.0 L994.0,836.0" stroke="#5a5a58" stroke-width="1" fill="none" opacity="0.45"/>
<circle cx="994.0" cy="836.0" r="5.4" fill="#939b84"/>
<circle cx="975.8" cy="858.4" r="5.4" fill="#3b2a22"/>
<path d="M1018.2,827.5 L1018.2,859.3" stroke="#3a3a38" stroke-width="1" fill="none" opacity="0.75"/>
<path d="M1009.2,836.5 L1036.4,836.5" stroke="#5a5a58" stroke-width="1" fill="none" opacity="0.45"/>
<circle cx="1036.4" cy="836.5" r="5.4" fill="#939b84"/>
<circle cx="1018.2" cy="859.3" r="5.4" fill="#3b2a22"/>
<path d="M1060.5,828.1 L1060.5,860.2" stroke="#3a3a38" stroke-width="1" fill="none" opacity="0.75"/>
<path d="M1051.5,837.1 L1078.8,837.1" stroke="#5a5a58" stroke-width="1" fill="none" opacity="0.45"/>
<circle cx="1078.8" cy="837.1" r="5.4" fill="#939b84"/>
<circle cx="1060.5" cy="860.2" r="5.4" fill="#3b2a22"/>
<path d="M1103.4,828.6 L1103.4,861.1" stroke="#3a3a38" stroke-width="1" fill="none" opacity="0.75"/>
<path d="M1094.4,837.6 L1121.6,837.6" stroke="#5a5a58" stroke-width="1" fill="none" opacity="0.45"/>
<circle cx="1121.6" cy="837.6" r="5.4" fill="#939b84"/>
<circle cx="1103.4" cy="861.1" r="5.4" fill="#3b2a22"/>
<path d="M1147.1,829.2 L1147.1,861.9" stroke="#3a3a38" stroke-width="1" fill="none" opacity="0.75"/>
<path d="M1138.1,838.2 L1166.2,838.2" stroke="#5a5a58" stroke-width="1" fill="none" opacity="0.45"/>
<circle cx="1166.2" cy="838.2" r="5.4" fill="#939b84"/>
<circle cx="1147.1" cy="861.9" r="5.4" fill="#3b2a22"/>
<circle cx="1152.8" cy="846" r="24.5" fill="none" stroke="#f41c1c" stroke-width="2.7" stroke-dasharray="5.5 2.8"/>
<path d="M1169,834 L1298,798" fill="none" stroke="#f41c1c" stroke-width="3.4" stroke-dasharray="9.5 3.5"/>
<polygon points="1307.5,794.5 1293,791 1297,805.5" fill="#f41c1c"/>
<path d="M1461.5,476 L1461.5,717" stroke="#444" stroke-width="2.2" fill="none"/>
<path d="M1454,484 L1461.5,473.5 L1469,484" stroke="#444" stroke-width="2.2" fill="none" stroke-linejoin="miter"/>
<path d="M1308.4,693.6 L1610,693.6" stroke="#444" stroke-width="2.2" fill="none"/>
<path d="M1600,686 L1611.5,693.6 L1600,701.2" stroke="#444" stroke-width="2.2" fill="none"/>
<text x="1428.5" y="504" font-size="21" font-weight="bold" fill="#222">I</text>
<text x="1573" y="680" font-size="21" font-weight="bold" fill="#222">V</text>
<path d="M1347,537.5 L1445.6,537.5 L1460.6,693.6 L1475.6,537.5 L1572,537.5" fill="none" stroke="#f0843a" stroke-width="2.4" stroke-linejoin="miter"/>
<path d="M1373.6,537.5 L1373.6,610.5 L1460.6,693.6 L1549.1,610.5 L1549.1,537.5" fill="none" stroke="#f0843a" stroke-width="2.2" stroke-linejoin="miter"/>
<path d="M1443.5,620 L1439.2,581.0" stroke="#f0843a" stroke-width="1.4" fill="none"/><polygon points="1438.5,575 1442.1,580.6 1436.2,581.3" fill="#f0843a"/>
<path d="M1387,639.6 L1410.9,665.6" stroke="#f0843a" stroke-width="1.4" fill="none"/><polygon points="1415,670 1408.7,667.6 1413.1,663.6" fill="#f0843a"/>
<path d="M1484.5,575 L1479.7,614.0" stroke="#f0843a" stroke-width="1.4" fill="none"/><polygon points="1479,620 1476.8,613.7 1482.7,614.4" fill="#f0843a"/>
<path d="M1506.5,670 L1531.8,644.3" stroke="#f0843a" stroke-width="1.4" fill="none"/><polygon points="1536,640 1533.9,646.4 1529.7,642.2" fill="#f0843a"/>
<polygon points="1310.7,779.7 1430.7,906.1 1634.3,809.7 1634.3,815 1430.7,912 1310.7,785" fill="#a9b3c6"/>
<polygon points="1310.7,779.7 1495,718.6 1634.3,809.7 1430.7,906.1" fill="#bfd2d4"/>
<polygon points="1310.7,779.7 1495,718.6 1634.3,809.7 1430.7,906.1" fill="url(#piG)"/>
<path d="M1447,769 L1533,836" stroke="#b86a38" stroke-width="8.5" stroke-linecap="butt"/>
<path d="M1447,768 L1533,835" stroke="#e0a070" stroke-width="4" stroke-linecap="butt"/>
<ellipse cx="1437.5" cy="763" rx="28.5" ry="15" fill="#9a6a50"/>
<ellipse cx="1437.2" cy="760.4" rx="28.4" ry="14.6" fill="#c97c42"/>
<text x="1437" y="764.5" font-size="14" font-weight="bold" fill="#2a1a10" text-anchor="middle" letter-spacing="-0.5">BE</text>
<g transform="translate(0 4)">
<path d="M1437,795 Q1433,799 1438,803 L1478,834 Q1483,838 1489,835 L1537,811 Q1543,807 1537,803 L1497,775 Q1492,772 1486,774 Z" fill="#cfd5d6" fill-opacity="0.8" stroke="#b8c0c2" stroke-width="1"/>
<path d="M1436,790 Q1432,794 1437,798 L1478,829 Q1483,833 1489,830 L1537,806 Q1543,802 1537,798 L1497,770 Q1492,767 1486,769 Z" fill="#dce0e1" fill-opacity="0.85" stroke="#eef0f0" stroke-width="1.2"/>
</g>
<path d="M1455,776 L1522,828" stroke="#e8b48c" stroke-width="6" opacity="0.55"/>
<path d="M1430,814.5 L1525,780.5" stroke="#4274ae" stroke-width="8.5" stroke-linecap="round"/>
<path d="M1431,812.5 L1523,779.5" stroke="#6f9bd2" stroke-width="3.6" stroke-linecap="round"/>
<ellipse cx="1415" cy="826.5" rx="29" ry="18.5" fill="#a8b8c6"/>
<ellipse cx="1414.7" cy="823.3" rx="28.9" ry="17.8" fill="#4d80b9"/>
<text x="1415.7" y="824" font-size="15" font-weight="bold" fill="#10202e" text-anchor="middle" letter-spacing="-0.5">TE</text>
<text x="1333" y="761.5" font-size="20.5" fill="#1e1e1e" stroke="#1e1e1e" stroke-width="0.3" textLength="27" lengthAdjust="spacingAndGlyphs">Au</text>
<text x="1327.5" y="852.5" font-size="20.5" fill="#1e1e1e" stroke="#1e1e1e" stroke-width="0.3" textLength="26" lengthAdjust="spacingAndGlyphs">Ag</text>
<text x="1580" y="750.5" font-size="20" fill="#1e1e1e" stroke="#1e1e1e" stroke-width="0.3" textLength="19.5" lengthAdjust="spacingAndGlyphs">PI</text>
<text x="1526.5" y="894.3" font-size="20.5" fill="#1e1e1e" stroke="#1e1e1e" stroke-width="0.3" textLength="110.5" lengthAdjust="spacingAndGlyphs">PEI+MXene</text>
<path d="M1367,758.2 L1408.5,767.9" stroke="#1a1a1a" stroke-width="1.6" fill="none"/>
<polygon points="1365,757.6 1372,755.5 1371,760.8" fill="#1a1a1a"/>
<path d="M1356,847 L1390,835.4" stroke="#1a1a1a" stroke-width="1.6" fill="none"/>
<polygon points="1354.5,847.6 1360.5,842.5 1362,847.8" fill="#1a1a1a"/>
<path d="M1544.3,755 L1572,745.8" stroke="#1a1a1a" stroke-width="1.6" fill="none"/>
<polygon points="1578,743.8 1570.5,743.2 1572.5,748.6" fill="#1a1a1a"/>
<path d="M1535.7,818.2 L1572.5,867" stroke="#1a1a1a" stroke-width="1.6" fill="none"/>
<polygon points="1576,871.8 1569,866.5 1574,864" fill="#1a1a1a"/>
</svg><div class="bd" style="left:0;top:1px;width:1731px;height:1px;background:#9a9a9a"></div><div class="bd" style="left:1px;top:0;width:1px;height:933px;background:#b0b0b0"></div><div class="bd" style="left:1729px;top:0;width:1px;height:933px;background:#d0d0d0"></div><div class="bd" style="left:0;top:0;width:1731px;height:1px"></div><div class="bd" style="left:0;top:0;width:1px;height:933px"></div><div class="bd" style="left:1730px;top:0;width:1px;height:933px"></div></body></html>
